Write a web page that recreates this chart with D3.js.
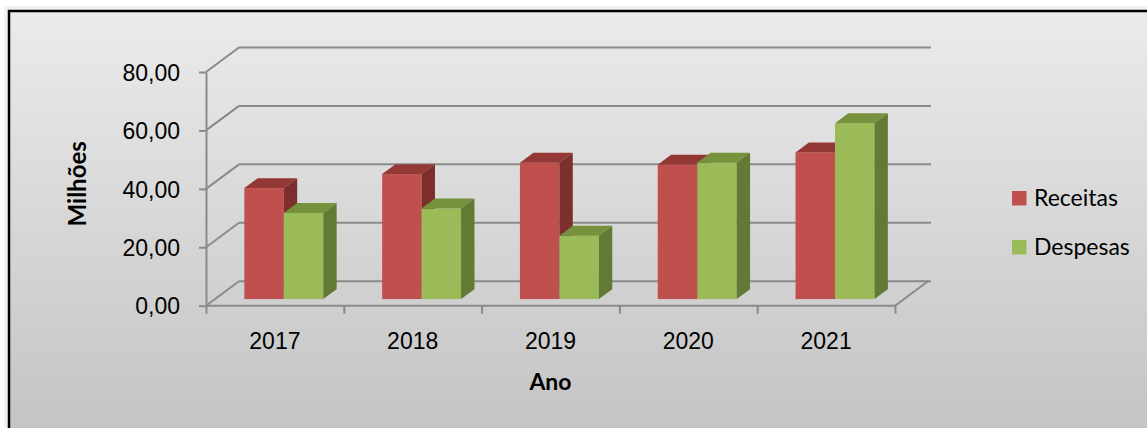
<!DOCTYPE html>
<html>
<head>
<meta charset="utf-8">
<script src="https://cdn.jsdelivr.net/npm/d3@7"></script>
<style>
  body { margin: 0; background: #fff; }
  svg { display: block; font-family: Lato, "Open Sans", sans-serif; }
  .tick text { fill: #000; }
</style>
</head>
<body>
<div class="chart"></div>
<script>
// data
const years    = [ "2017", "2018", "2019", "2020", "2021" ];
const series   = [ "Receitas", "Despesas" ];
const receitas = [ 38.0, 42.8, 46.7, 46.0, 50.2 ];
const despesas = [ 29.5, 31.0, 21.7, 46.7, 60.2 ];
const yTicks   = [ 0, 20, 40, 60, 80 ];

const width  = 1147;
const height = 428;

const colors = {
  Receitas: { front: "#c0504d", top: "#943836", side: "#7c2f2d" },
  Despesas: { front: "#9bbb59", top: "#76923c", side: "#637a35" }
};
const gridColor = "#8a8a8a";

// plot frame (front face of the floor / left wall)
const plot = { left: 206, right: 895, top: 72, bottom: 305.7 };
const depth = { dx: 33, dy: -24.5 };   // oblique offset of the back wall
const barDepth = [ 0.27, 0.675 ];      // bars sit in the middle of the depth

const svg = d3.select( ".chart" )
  .append( "svg" )
    .attr( "width", width )
    .attr( "height", height );

const defs = svg.append( "defs" );
const grad = defs.append( "linearGradient" )
  .attr( "id", "bg" )
  .attr( "x1", 0 ).attr( "y1", 0 )
  .attr( "x2", 0 ).attr( "y2", 1 );
grad.append( "stop" ).attr( "offset", "0%" ).attr( "stop-color", "#ebebeb" );
grad.append( "stop" ).attr( "offset", "100%" ).attr( "stop-color", "#c1c1c1" );

// chart area with border (extends past the window on right and bottom)
svg.append( "rect" )
  .attr( "x", 4 ).attr( "y", 6 )
  .attr( "width", width + 20 ).attr( "height", height + 20 )
  .attr( "fill", "#f2f2f2" );
svg.append( "rect" )
  .attr( "x", 9 ).attr( "y", 11 )
  .attr( "width", width + 20 ).attr( "height", height + 20 )
  .attr( "fill", "url(#bg)" )
  .attr( "stroke", "#000" )
  .attr( "stroke-width", 2.5 );

const yScale = d3.scaleLinear()
  .domain( [ 0, 80 ] )
  .range( [ plot.bottom, plot.top ] );

const xScale = d3.scaleBand()
  .domain( years )
  .range( [ plot.left, plot.right ] )
  .paddingInner( 0.427 )
  .paddingOuter( 0.2135 );

const sScale = d3.scaleBand()
  .domain( series )
  .range( [ 0, xScale.bandwidth() ] );

const zx = d3.scaleLinear().domain( [ 0, 1 ] ).range( [ 0, depth.dx ] );
const zy = d3.scaleLinear().domain( [ 0, 1 ] ).range( [ 0, depth.dy ] );

const walls = svg.append( "g" )
  .attr( "fill", "none" )
  .attr( "stroke", gridColor )
  .attr( "stroke-width", 2 );

// back wall gridlines and left wall diagonals
yTicks.forEach( v => {
  const y = yScale( v );
  walls.append( "line" )
    .attr( "x1", plot.left + zx( 1 ) ).attr( "x2", plot.right + zx( 1 ) + 3 )
    .attr( "y1", y + zy( 1 ) ).attr( "y2", y + zy( 1 ) );
  walls.append( "line" )
    .attr( "x1", plot.left ).attr( "x2", plot.left + zx( 1 ) )
    .attr( "y1", y ).attr( "y2", y + zy( 1 ) );
});

// floor front edge and right edge
walls.append( "path" )
  .attr( "d", `M${ plot.left },${ plot.bottom }H${ plot.right }l${ zx( 1 ) },${ zy( 1 ) }` );

// y axis
const yAxis = d3.axisLeft( yScale )
  .tickValues( yTicks )
  .tickSize( 7 )
  .tickSizeOuter( 0 )
  .tickPadding( 19 )
  .tickFormat( d => d3.format( ".2f" )( d ).replace( ".", "," ) );

const gy = svg.append( "g" )
  .attr( "transform", `translate(${ plot.left },0)` )
  .call( yAxis );
gy.select( ".domain" ).attr( "stroke", gridColor ).attr( "stroke-width", 2 );
gy.selectAll( ".tick line" ).attr( "stroke", gridColor ).attr( "stroke-width", 2 );
gy.selectAll( ".tick text" ).attr( "font-size", 23 ).attr( "dy", "0.36em" );

// x axis: tick marks at category boundaries
const xEdge = d3.scaleLinear()
  .domain( [ 0, years.length ] )
  .range( [ plot.left, plot.right ] );
const gxTicks = svg.append( "g" )
  .attr( "transform", `translate(0,${ plot.bottom })` )
  .call( d3.axisBottom( xEdge ).ticks( years.length ).tickSize( 8 ).tickFormat( "" ) );
gxTicks.select( ".domain" ).remove();
gxTicks.selectAll( ".tick line" ).attr( "stroke", gridColor ).attr( "stroke-width", 2 );

const gx = svg.append( "g" )
  .attr( "transform", `translate(0,${ plot.bottom })` )
  .call( d3.axisBottom( xScale ).tickSize( 0 ).tickPadding( 27 ) );
gx.select( ".domain" ).remove();
gx.selectAll( ".tick text" ).attr( "font-size", 23 );

// bars
const rows = years.map( ( year, i ) => [
  { year, key: "Receitas", value: receitas[ i ] },
  { year, key: "Despesas", value: despesas[ i ] }
]).flat();

const fdx = zx( barDepth[ 0 ] ), fdy = zy( barDepth[ 0 ] );
const ddx = zx( barDepth[ 1 ] ) - fdx, ddy = zy( barDepth[ 1 ] ) - fdy;

const bar = svg.selectAll( "g.bar" )
  .data( rows )
  .enter()
    .append( "g" )
    .attr( "class", "bar" )
    .attr( "transform", d => `translate(${ xScale( d.year ) + sScale( d.key ) + fdx },${ fdy })` );

const bw = sScale.bandwidth();

bar.append( "rect" )
  .attr( "x", 0 )
  .attr( "y", d => yScale( d.value ) )
  .attr( "width", bw )
  .attr( "height", d => yScale( 0 ) - yScale( d.value ) )
  .attr( "fill", d => colors[ d.key ].front );

bar.append( "path" )
  .attr( "d", d => {
    const y = yScale( d.value );
    return `M0,${ y }l${ ddx },${ ddy }h${ bw }l${ -ddx },${ -ddy }Z`;
  })
  .attr( "fill", d => colors[ d.key ].top );

bar.append( "path" )
  .attr( "d", d => {
    const y = yScale( d.value ), y0 = yScale( 0 );
    return `M${ bw },${ y }l${ ddx },${ ddy }V${ y0 + ddy }l${ -ddx },${ -ddy }Z`;
  })
  .attr( "fill", d => colors[ d.key ].side );

// axis titles
svg.append( "text" )
  .attr( "transform", `translate(86,${ ( plot.top + plot.bottom ) / 2 - 5 }) rotate(-90)` )
  .attr( "text-anchor", "middle" )
  .attr( "font-size", 24 )
  .attr( "font-weight", "bold" )
  .text( "Milhões" );

svg.append( "text" )
  .attr( "x", ( plot.left + plot.right ) / 2 )
  .attr( "y", 390 )
  .attr( "text-anchor", "middle" )
  .attr( "font-size", 23 )
  .attr( "font-weight", "bold" )
  .text( "Ano" );

// legend
const legend = svg.selectAll( "g.legend" )
  .data( series )
  .enter()
    .append( "g" )
    .attr( "class", "legend" )
    .attr( "transform", ( d, i ) => `translate(1012,${ 191 + i * 49 })` );

legend.append( "rect" )
  .attr( "width", 14.5 )
  .attr( "height", 14.5 )
  .attr( "fill", d => colors[ d ].front );

legend.append( "text" )
  .attr( "x", 22 )
  .attr( "y", 15 )
  .attr( "font-size", 23 )
  .text( d => d );
</script>
</body>
</html>
